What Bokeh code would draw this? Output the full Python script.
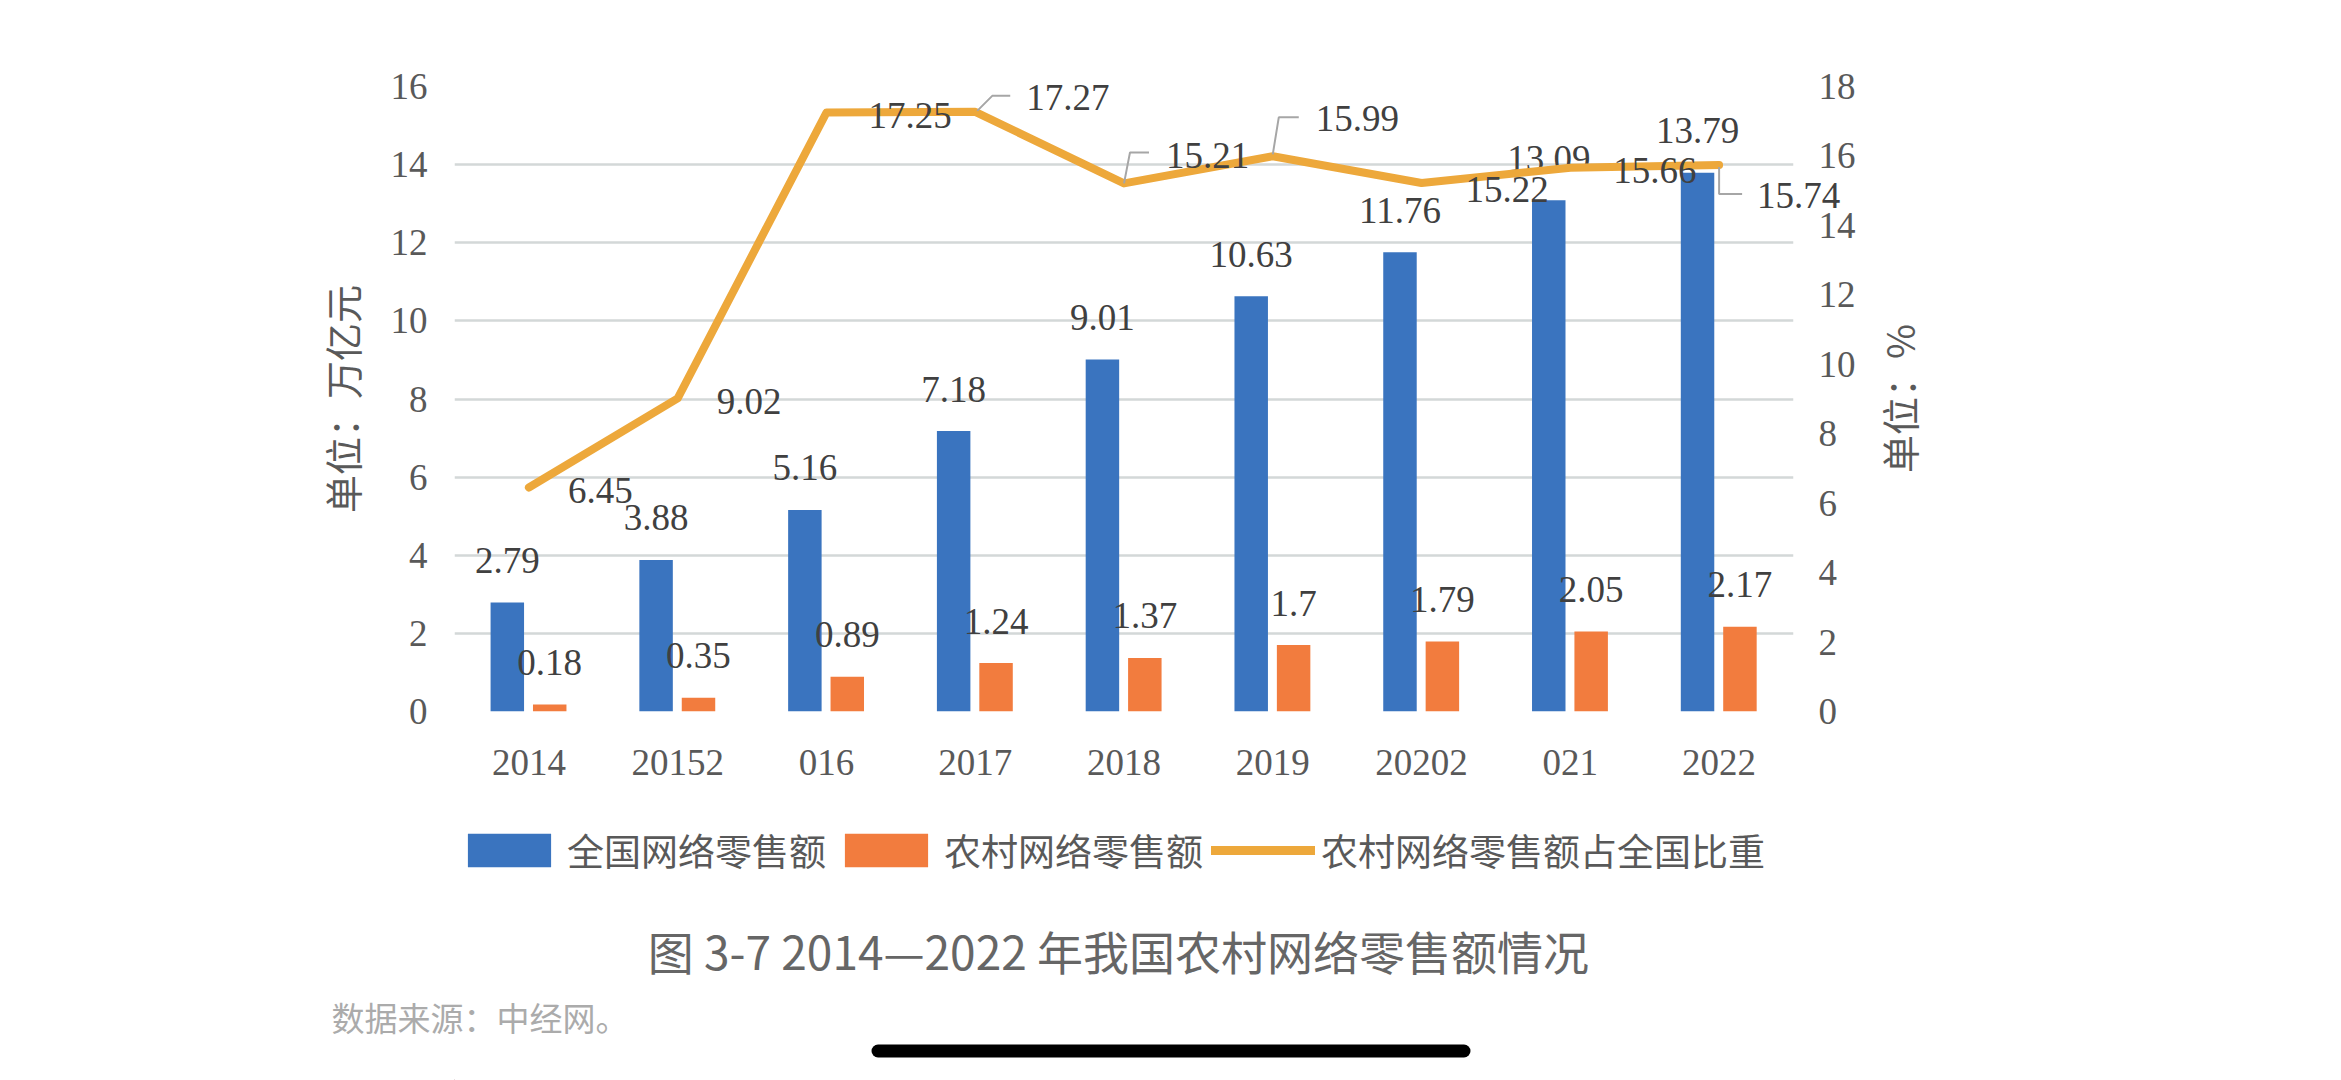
from math import pi

from bokeh.core.properties import value
from bokeh.embed import file_html
from bokeh.layouts import column
from bokeh.models import (BoxAnnotation, ColumnDataSource, FixedTicker, Label,
                          Legend, LegendItem, LinearAxis, Range1d)
from bokeh.plotting import figure
from bokeh.resources import INLINE
from bokeh.transform import dodge

# ---- data -------------------------------------------------------------
years = ["2014", "20152", "016", "2017", "2018", "2019", "20202", "021", "2022"]
national_sales = [2.79, 3.88, 5.16, 7.18, 9.01, 10.63, 11.76, 13.09, 13.79]   # 万亿元
rural_sales = [0.18, 0.35, 0.89, 1.24, 1.37, 1.7, 1.79, 2.05, 2.17]          # 万亿元
rural_share = [6.45, 9.02, 17.25, 17.27, 15.21, 15.99, 15.22, 15.66, 15.74]  # %
left_ticks = [0, 2, 4, 6, 8, 10, 12, 14, 16]
right_ticks = [0, 2, 4, 6, 8, 10, 12, 14, 16, 18]
series_names = ["全国网络零售额", "农村网络零售额", "农村网络零售额占全国比重"]

# ---- page / frame geometry (px) ---------------------------------------
W, H = 2341, 1080
CHART_H = 800                       # upper figure: bars, line, axes
FOOT_H = H - CHART_H                # lower figure: legend, caption, source
FRAME_L, FRAME_R, FRAME_T, FRAME_B = 454, 1793, 86, 711
frame_w = FRAME_R - FRAME_L
frame_h = FRAME_B - FRAME_T

BLUE = "#3A74BF"
ORANGE = "#F27C3E"
GOLD = "#EDA83B"
NUM_COLOR = "#404040"
TICK_COLOR = "#595959"
SERIF = "Liberation Serif"
CJK = "Noto Sans CJK SC"

# label placement for the share line, in screen px (right, down)
share_lbl_dx = [39, 39, 42, 51, 42, 43, 44, 43, 38]
share_lbl_dy = [3, 3, 3, -14, -28, -38, 6, 3, 31]
# leader lines: (index, [(dx, dy), ...]) in screen px from the point
leaders = [
    (3, [(2, -1), (17, -16), (35, -16)]),
    (4, [(0, 0), (6, -31), (25, -31)]),
    (5, [(0, -2), (6, -39), (26, -39)]),
    (8, [(0, 2), (0, 29), (23, 29)]),
]

n = len(years)
xs = [i + 0.5 for i in range(n)]

src = ColumnDataSource(dict(
    x=xs,
    national=national_sales,
    rural=rural_sales,
    share=rural_share,
    nat_lbl=[f"{v:g}" for v in national_sales],
    rur_lbl=[f"{v:g}" for v in rural_sales],
    shr_lbl=[f"{v:g}" for v in rural_share],
    lx=share_lbl_dx,
    ly=share_lbl_dy,
))

p = figure(
    width=W, height=CHART_H,
    x_range=Range1d(0, n), y_range=Range1d(left_ticks[0], left_ticks[-1]),
    output_backend="svg", toolbar_location=None,
    min_border_left=FRAME_L, min_border_right=W - FRAME_R,
    min_border_top=FRAME_T, min_border_bottom=CHART_H - FRAME_B,
    background_fill_color="white", border_fill_color="white",
    outline_line_color=None,
)
p.extra_y_ranges = {"pct": Range1d(right_ticks[0], right_ticks[-1])}

px_x = frame_w / n
px_y = frame_h / (right_ticks[-1] - right_ticks[0])

# ---- axes ---------------------------------------------------------------
def style_axis(ax, standoff):
    ax.axis_line_color = None
    ax.major_tick_line_color = None
    ax.minor_tick_line_color = None
    ax.major_tick_out = 0
    ax.major_tick_in = 0
    ax.minor_tick_out = 0
    ax.major_label_standoff = standoff
    ax.major_label_text_font = SERIF
    ax.major_label_text_font_size = "37px"
    ax.major_label_text_color = TICK_COLOR
    ax.axis_label_text_font = CJK
    ax.axis_label_text_font_size = "38px"
    ax.axis_label_text_font_style = "normal"
    ax.axis_label_text_color = TICK_COLOR

ya = p.yaxis[0]
ya.ticker = FixedTicker(ticks=left_ticks)
style_axis(ya, 27)
ya.axis_label = "单位：万亿元"
ya.axis_label_standoff = 19

yr = LinearAxis(y_range_name="pct", ticker=FixedTicker(ticks=right_ticks))
style_axis(yr, 25)
p.add_layout(yr, "right")

# right-hand unit title, reading bottom to top like the left one
p.text(x=[n + (1898 - FRAME_R) / px_x], y=[(FRAME_B - 398) / px_y],
       text=["单位：%"], y_range_name="pct", angle=pi / 2,
       text_align="center", text_baseline="middle", level="overlay",
       text_font=value(CJK), text_font_size="38px", text_color=TICK_COLOR)

xa = p.xaxis[0]
xa.ticker = FixedTicker(ticks=xs)
xa.major_label_overrides = {x: y for x, y in zip(xs, years)}
style_axis(xa, 38)

p.xgrid.visible = False
p.ygrid.grid_line_color = "#D3D8D8"
p.ygrid.grid_line_width = 2.5

# ---- bars ---------------------------------------------------------------
OFF_N, OFF_R, BAR_W = -0.145, 0.14, 0.225
p.vbar(x=dodge("x", OFF_N), top="national", width=BAR_W, source=src,
       fill_color=BLUE, line_color=None)
p.vbar(x=dodge("x", OFF_R), top="rural", width=BAR_W, source=src,
       fill_color=ORANGE, line_color=None)

num_style = dict(text_font=value(SERIF), text_font_size="37px",
                 text_color=NUM_COLOR, text_baseline="middle")
p.text(x=dodge("x", OFF_N), y="national", text="nat_lbl", source=src,
       text_align="center", y_offset=-42, **num_style)
p.text(x=dodge("x", OFF_R), y="rural", text="rur_lbl", source=src,
       text_align="center", y_offset=-42, **num_style)

# ---- share line (right axis) --------------------------------------------
LINE_STYLE = dict(line_color=GOLD, line_width=8, line_join="round", line_cap="round")
p.line("x", "share", source=src, y_range_name="pct", **LINE_STYLE)

lead_xs, lead_ys = [], []
for i, pts in leaders:
    lead_xs.append([xs[i] + dx / px_x for dx, dy in pts])
    lead_ys.append([rural_share[i] - dy / px_y for dx, dy in pts])
p.multi_line(xs=lead_xs, ys=lead_ys, y_range_name="pct",
             line_color="#A6A6A6", line_width=2)

# drawn on the overlay level so the last label may run past the frame edge
p.text(x="x", y="share", text="shr_lbl", source=src, y_range_name="pct",
       x_offset="lx", y_offset="ly", text_align="left", level="overlay",
       **num_style)

# ---- footer: legend, caption, source ------------------------------------
# x in page pixels across the frame span, y in pixels up from the page bottom
foot = figure(
    width=W, height=FOOT_H,
    x_range=Range1d(FRAME_L, FRAME_R), y_range=Range1d(0, FOOT_H),
    x_axis_location=None, y_axis_location=None,
    output_backend="svg", toolbar_location=None,
    min_border_left=FRAME_L, min_border_right=W - FRAME_R,
    min_border_top=0, min_border_bottom=0,
    background_fill_color="white", border_fill_color="white",
    outline_line_color=None,
)
foot.grid.visible = False

# swatch renderers for the legend, parked outside the visible span
k_nat = foot.vbar(x=[-100], top=[1], width=1, fill_color=BLUE, line_color=None)
k_rur = foot.vbar(x=[-100], top=[1], width=1, fill_color=ORANGE, line_color=None)
k_line = foot.line(x=[-100, -90], y=[1, 1], line_color=GOLD, line_width=9,
                   line_cap="round")

legend = Legend(
    items=[LegendItem(label=name, renderers=[r])
           for name, r in zip(series_names, [k_nat, k_rur, k_line])],
    orientation="horizontal",
    location=(457 - FRAME_L, H - 877),
    glyph_width=104, glyph_height=42,
    label_standoff=6, spacing=8, padding=0, margin=0,
    border_line_color=None, background_fill_alpha=0,
    label_text_font=CJK, label_text_font_size="37px",
    label_text_color=TICK_COLOR,
)
foot.add_layout(legend)

foot.add_layout(Label(
    x=1123, y=H - 949, text="图 3-7  2014—2022 年我国农村网络零售额情况",
    text_align="center", text_baseline="middle",
    text_font=CJK, text_font_size="46px", text_color="#666666",
))
foot.text(x=[331], y=[H - 1016], text=["数据来源：中经网。"],
          text_align="left", text_baseline="middle", level="overlay",
          text_font=value(CJK), text_font_size="33px", text_color="#ABABAB")

# dark rounded bar along the bottom edge
foot.add_layout(BoxAnnotation(
    left=871, right=1470, bottom=H - 1057, top=H - 1044,
    fill_color="black", fill_alpha=1.0, line_color=None, border_radius=7,
))

layout = column(p, foot, spacing=0)
open("out.html", "w").write(file_html(layout, INLINE))
